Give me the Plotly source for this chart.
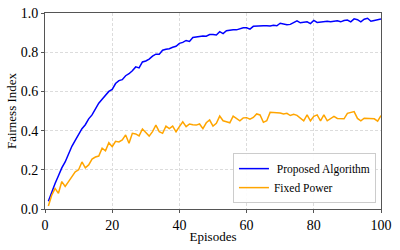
import plotly.graph_objects as go

episodes = list(range(1, 101))
proposed = [0.04, 0.09, 0.13, 0.17, 0.21, 0.24, 0.28, 0.32, 0.35, 0.38,
            0.41, 0.43, 0.46, 0.48, 0.51, 0.54, 0.56, 0.58, 0.60, 0.61,
            0.64, 0.655, 0.66, 0.68, 0.69, 0.705, 0.725, 0.72, 0.75, 0.755,
            0.765, 0.78, 0.79, 0.79, 0.81, 0.815, 0.818, 0.825, 0.83, 0.845,
            0.85, 0.86, 0.855, 0.875, 0.878, 0.88, 0.883, 0.882, 0.89, 0.89,
            0.888, 0.905, 0.895, 0.91, 0.913, 0.915, 0.914, 0.92, 0.925, 0.925,
            0.918, 0.932, 0.934, 0.933, 0.935, 0.935, 0.934, 0.937, 0.935, 0.948,
            0.944, 0.94, 0.942, 0.952, 0.96, 0.95, 0.952, 0.955, 0.946, 0.962,
            0.952, 0.955, 0.957, 0.958, 0.956, 0.958, 0.96, 0.955, 0.962, 0.964,
            0.955, 0.97, 0.966, 0.955, 0.968, 0.973, 0.958, 0.962, 0.965, 0.97]
fixed = [0.015, 0.07, 0.105, 0.08, 0.14, 0.115, 0.14, 0.165, 0.19, 0.2,
         0.24, 0.21, 0.225, 0.255, 0.265, 0.27, 0.31, 0.297, 0.338, 0.318,
         0.345, 0.342, 0.352, 0.378, 0.335, 0.386, 0.383, 0.373, 0.408, 0.39,
         0.372, 0.395, 0.428, 0.395, 0.386, 0.423, 0.41, 0.423, 0.394, 0.42,
         0.445, 0.42, 0.434, 0.43, 0.428, 0.434, 0.41, 0.44, 0.454, 0.423,
         0.437, 0.474, 0.45, 0.445, 0.44, 0.474, 0.46, 0.45, 0.465, 0.466,
         0.458, 0.467, 0.485, 0.48, 0.442, 0.45, 0.493, 0.493, 0.492, 0.49,
         0.485, 0.488, 0.477, 0.483, 0.478, 0.466, 0.45, 0.48, 0.45, 0.473,
         0.48, 0.45, 0.48, 0.45, 0.46, 0.473, 0.462, 0.46, 0.46, 0.488,
         0.492, 0.497, 0.462, 0.45, 0.463, 0.463, 0.463, 0.46, 0.448, 0.477]

font_family = "Liberation Serif, serif"

fig = go.Figure()
fig.add_trace(go.Scatter(x=episodes, y=proposed, mode="lines", name=" Proposed Algorithm",
                         line=dict(color="#0000ff", width=1.5)))
fig.add_trace(go.Scatter(x=episodes, y=fixed, mode="lines", name="Fixed Power",
                         line=dict(color="#ffa500", width=1.5)))

axis_common = dict(showline=True, linecolor="#555555", linewidth=1, mirror=True,
                   ticks="outside", ticklen=3, tickcolor="#555555",
                   showgrid=True, gridcolor="#dcdcdc", griddash="3px,2px", gridwidth=0.8,
                   zeroline=False, automargin=True,
                   tickfont=dict(size=14, color="black", family=font_family))

fig.update_layout(
    width=400, height=250,
    margin=dict(l=45, r=19, t=13, b=41, autoexpand=False),
    paper_bgcolor="white", plot_bgcolor="white",
    font=dict(family=font_family, color="black"),
    xaxis=dict(range=[0, 100], tickvals=[0, 20, 40, 60, 80, 100],
               title=dict(text="Episodes", font=dict(size=13, family=font_family), standoff=0),
               **axis_common),
    yaxis=dict(range=[0, 1.0], tickvals=[0, 0.2, 0.4, 0.6, 0.8, 1.0], tickformat=".1f",
               title=dict(text="Fairness Index", font=dict(size=13, family=font_family), standoff=1),
               **axis_common),
    legend=dict(x=0.985, y=0.03, xanchor="right", yanchor="bottom",
                bgcolor="rgba(255,255,255,0.9)", bordercolor="#cccccc", borderwidth=1,
                font=dict(size=11.5, family=font_family), tracegroupgap=0,
                itemwidth=30),
    showlegend=True,
)

fig.write_html("out.html", config={"displayModeBar": False},
               post_script="document.body.style.margin='0';document.body.style.overflow='hidden';")
